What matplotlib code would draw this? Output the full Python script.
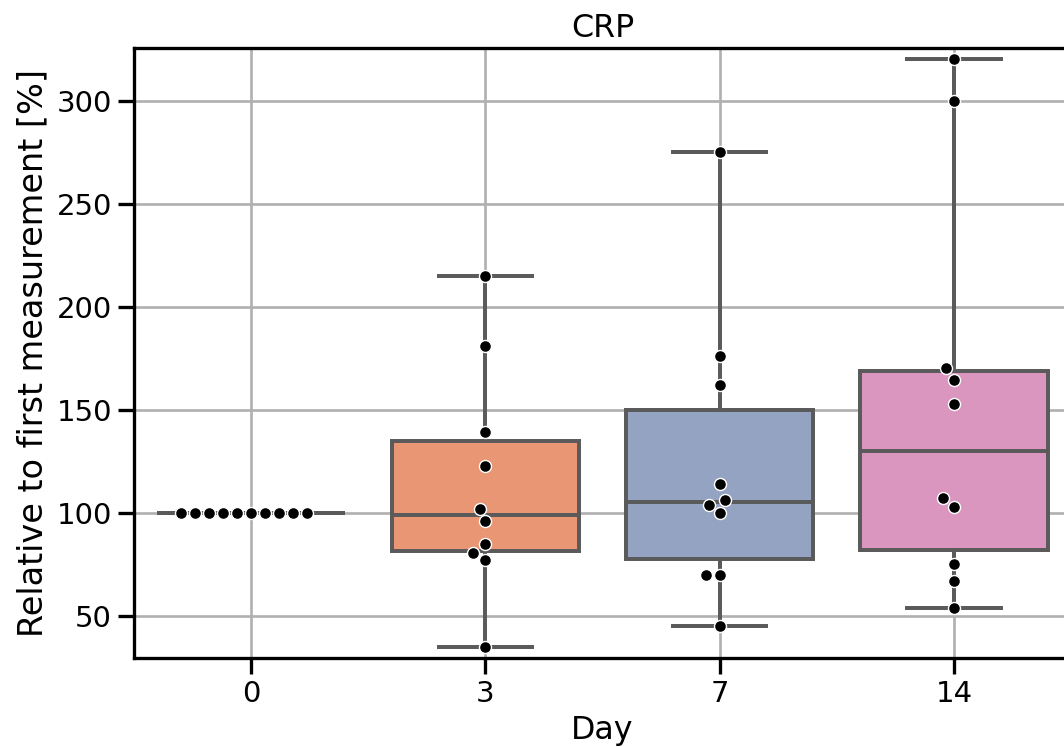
import matplotlib
matplotlib.use("Agg")
import matplotlib.pyplot as plt
import pandas as pd
import seaborn as sns

days = [0, 3, 7, 14]
crp_day0 = [100, 100, 100, 100, 100, 100, 100, 100, 100, 100]
crp_day3 = [215, 181, 139, 122.5, 102, 96, 85, 80.5, 77, 35]
crp_day7 = [275, 176, 162, 114, 106, 104, 100, 70, 70, 45]
crp_day14 = [320, 300, 170, 164.5, 153, 107, 103, 75, 67, 54]

df = pd.DataFrame({
    "Day": [0] * len(crp_day0) + [3] * len(crp_day3) + [7] * len(crp_day7) + [14] * len(crp_day14),
    "CRP": crp_day0 + crp_day3 + crp_day7 + crp_day14,
})

sns.set_context("talk")

DPI = 127
fig = plt.figure(figsize=(1064 / DPI, 747 / DPI), dpi=DPI)
ax = fig.add_axes([0.1259, 0.1191, 0.8807, 0.8166])

sns.boxplot(data=df, x="Day", y="CRP", order=days, hue="Day", hue_order=days,
            palette="Set2", whis=(0, 100), legend=False,
            linecolor="#5a5a5a", linewidth=2.25, ax=ax)
sns.swarmplot(data=df, x="Day", y="CRP", order=days, color="black", size=6.8,
              edgecolor="white", linewidth=0.8, ax=ax)

ax.grid(True)
ax.set_ylim(29.5, 325.5)
ax.set_title("CRP")
ax.set_xlabel("Day")
ax.set_ylabel("Relative to first measurement [%]", fontsize=19)

fig.savefig("out.png", dpi=DPI)
